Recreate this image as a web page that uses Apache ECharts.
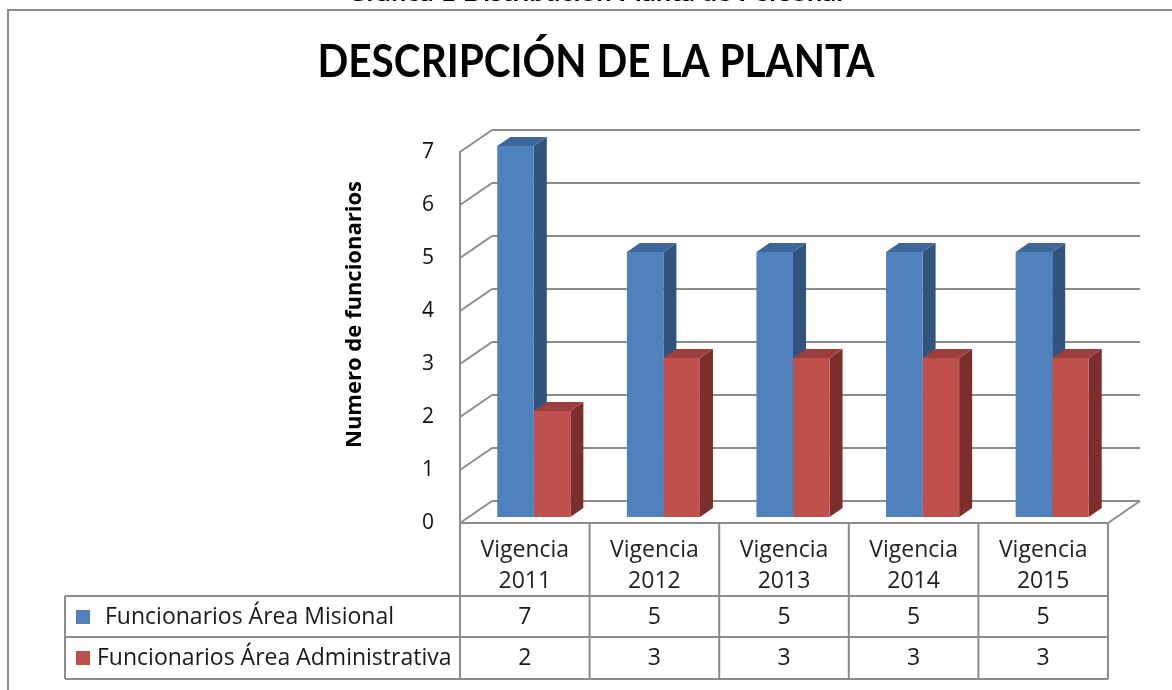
<!DOCTYPE html>
<html>
<head>
<meta charset="utf-8">
<script src="https://cdn.jsdelivr.net/npm/echarts@6/dist/echarts.min.js"></script>
<style>
  html, body { margin: 0; padding: 0; background: #fff; }
  #chart { width: 1172px; height: 690px; }
</style>
</head>
<body>
<div id="chart"></div>
<script>
var categories = ['Vigencia\n2011', 'Vigencia\n2012', 'Vigencia\n2013', 'Vigencia\n2014', 'Vigencia\n2015']
var misional = [7, 5, 5, 5, 5]
var administrativa = [2, 3, 3, 3, 3]
var seriesNames = ['Funcionarios Área Misional', 'Funcionarios Área Administrativa']
var yTicks = [0, 1, 2, 3, 4, 5, 6, 7]
var pageTitle = 'Gráfica 1 Distribución Planta de Personal'
var chartTitle = 'DESCRIPCIÓN DE LA PLANTA'
var yName = 'Numero de funcionarios'

var FONT = '"Open Sans", Lato, sans-serif'
var TITLE_FONT = 'Lato, "Open Sans", sans-serif'
var LINE = '#8c8c8c'
var WALL = [32, -22] // offset from front plane to back wall
var BAR_SHIFT = [9, -6] // bars stand a bit behind the front plane
var BAR_DEPTH = [13, -9]
var BLUE = { front: '#4f81bd', side: '#32547c', top: '#3d679a' }
var RED = { front: '#c0504d', side: '#7b2f2d', top: '#9c3f3c' }

var chart = echarts.init(document.getElementById('chart'))

function bar3d(colors, right) {
  return function(params, api) {
    var i = api.value(0)
    var top = api.coord([i, api.value(1)])
    var base = api.coord([i, 0])
    var bw = api.size([1, 0])[0] * 0.282
    var x0 = top[0] + BAR_SHIFT[0] + (right ? 0 : -bw)
    var x1 = x0 + bw
    var yt = top[1] + BAR_SHIFT[1]
    var yb = base[1] + BAR_SHIFT[1]
    var dx = BAR_DEPTH[0]
    var dy = BAR_DEPTH[1]
    return {
      type: 'group',
      children: [
        { type: 'polygon', shape: { points: [[x1, yt], [x1 + dx, yt + dy], [x1 + dx, yb + dy], [x1, yb]] }, style: { fill: colors.side }},
        { type: 'polygon', shape: { points: [[x0, yt], [x0 + dx, yt + dy], [x1 + dx, yt + dy], [x1, yt]] }, style: { fill: colors.top }},
        { type: 'rect', shape: { x: x0, y: yt, width: bw, height: yb - yt }, style: { fill: colors.front }}
      ]
    }
  }
}

// diagonal lines of the side wall and floor
function wallLines(params, api) {
  var t = api.value(1)
  var band = api.size([1, 0])[0]
  var p = api.coord([0, t])
  var x = p[0] - band / 2
  var children = [{
    type: 'line',
    shape: { x1: x, y1: p[1], x2: x + WALL[0], y2: p[1] + WALL[1] },
    style: { stroke: LINE, lineWidth: 2 }
  }]
  if (t === 0) {
    var xr = api.coord([categories.length - 1, 0])[0] + band / 2
    children.push({
      type: 'line',
      shape: { x1: xr, y1: p[1], x2: xr + WALL[0], y2: p[1] + WALL[1] },
      style: { stroke: LINE, lineWidth: 2 }
    })
  }
  return { type: 'group', children: children }
}

var hidden = { show: false }

chart.setOption({
  animation: false,
  backgroundColor: '#fff',
  grid: [
    { left: 460, right: 64, top: 152, bottom: 167 },
    { left: 460 + WALL[0], right: 64 - WALL[0], top: 152 + WALL[1], bottom: 167 - WALL[1] }
  ],
  xAxis: [{
    type: 'category',
    gridIndex: 0,
    data: categories,
    axisLine: { lineStyle: { color: LINE, width: 2 }},
    axisTick: hidden,
    axisLabel: {
      interval: 0,
      margin: 12,
      fontFamily: FONT,
      fontSize: 23,
      lineHeight: 31,
      color: '#222'
    }
  }, {
    type: 'category',
    gridIndex: 1,
    data: categories,
    show: false
  }],
  yAxis: [{
    type: 'value',
    gridIndex: 0,
    min: 0,
    max: 7,
    interval: 1,
    name: yName,
    nameLocation: 'middle',
    nameRotate: 90,
    nameGap: 94,
    nameTextStyle: { fontFamily: FONT, fontSize: 22, fontWeight: 'bold', color: '#000', padding: [0, 0, 0, 46] },
    axisLine: { show: true, lineStyle: { color: LINE, width: 2 }},
    axisTick: hidden,
    splitLine: hidden,
    axisLabel: { margin: 26, fontFamily: FONT, fontSize: 21, color: '#111' }
  }, {
    type: 'value',
    gridIndex: 1,
    min: 0,
    max: 7,
    interval: 1,
    axisLine: hidden,
    axisTick: hidden,
    axisLabel: hidden,
    splitLine: { show: true, lineStyle: { color: LINE, width: 2 }}
  }],
  series: [{
    type: 'custom',
    name: 'wall',
    xAxisIndex: 0,
    yAxisIndex: 0,
    silent: true,
    renderItem: wallLines,
    data: yTicks.map(function(t) { return [0, t] })
  }, {
    type: 'custom',
    name: seriesNames[0],
    xAxisIndex: 0,
    yAxisIndex: 0,
    renderItem: bar3d(BLUE, false),
    encode: { x: 0, y: 1 },
    data: misional.map(function(v, i) { return [i, v] })
  }, {
    type: 'custom',
    name: seriesNames[1],
    xAxisIndex: 0,
    yAxisIndex: 0,
    renderItem: bar3d(RED, true),
    encode: { x: 0, y: 1 },
    data: administrativa.map(function(v, i) { return [i, v] })
  }]
})

// data table, title and frame
function textWidth(font, s) {
  var ctx = document.createElement('canvas').getContext('2d')
  ctx.font = font
  return ctx.measureText(s).width
}

var origin = chart.convertToPixel({ gridIndex: 0 }, [0, 0])
var band = chart.convertToPixel({ gridIndex: 0 }, [1, 0])[0] - origin[0]
var tLeft = origin[0] - band / 2
var tRight = tLeft + band * categories.length
var rowTop = [596, 637]
var rowH = 42
var tBottom = rowTop[1] + rowH
var legendLeft = 65

var els = []
function hline(x1, x2, y) {
  els.push({ type: 'line', shape: { x1: x1, y1: y, x2: x2, y2: y }, style: { stroke: LINE, lineWidth: 2 }})
}
function vline(x, y1, y2) {
  els.push({ type: 'line', shape: { x1: x, y1: y1, x2: x, y2: y2 }, style: { stroke: LINE, lineWidth: 2 }})
}

for (var c = 0; c <= categories.length; c++) {
  vline(tLeft + band * c, origin[1], tBottom)
}
vline(legendLeft, rowTop[0], tBottom)
hline(legendLeft, tRight, rowTop[0])
hline(legendLeft, tRight, rowTop[1])
hline(legendLeft, tRight, tBottom)

var rows = [misional, administrativa]
var keyColors = [BLUE.front, RED.front]
var textX = [105, 97]
var cellFont = '23px ' + FONT
rows.forEach(function(vals, r) {
  var cy = rowTop[r] + rowH / 2
  els.push({ type: 'rect', shape: { x: 76, y: cy - 7, width: 14, height: 14 }, style: { fill: keyColors[r] }})
  els.push({ type: 'text', x: textX[r], y: cy, style: { text: seriesNames[r], font: cellFont, fill: '#1a1a1a', verticalAlign: 'middle' }})
  vals.forEach(function(v, i) {
    els.push({
      type: 'text',
      x: tLeft + band * (i + 0.5),
      y: cy,
      style: { text: String(v), font: cellFont, fill: '#1a1a1a', align: 'center', verticalAlign: 'middle' }
    })
  })
})

var titleFont = 'bold 46px ' + TITLE_FONT
els.push({
  type: 'text',
  x: 596,
  y: 62,
  scaleX: 557 / textWidth(titleFont, chartTitle),
  style: { text: chartTitle, font: titleFont, fill: '#000', align: 'center', verticalAlign: 'middle' }
})
var capFont = 'bold 22px ' + TITLE_FONT
els.push({
  type: 'text',
  x: 595,
  y: -6,
  scaleX: 496 / textWidth(capFont, pageTitle),
  style: { text: pageTitle, font: capFont, fill: '#000', align: 'center', verticalAlign: 'middle' }
})
els.push({
  type: 'rect',
  shape: { x: 8, y: 10, width: 1200, height: 700 },
  style: { fill: null, stroke: LINE, lineWidth: 2 }
})

chart.setOption({ graphic: { elements: els }})
</script>
</body>
</html>
